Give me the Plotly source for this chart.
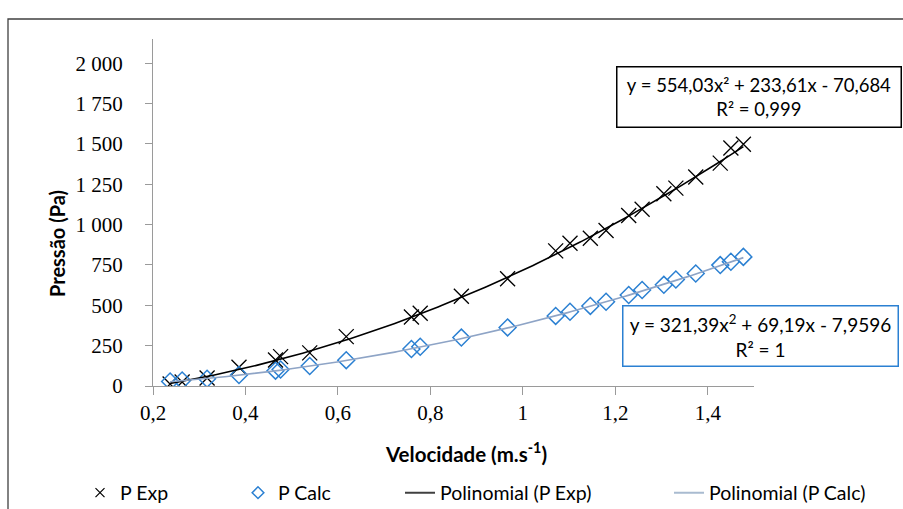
import numpy as np
import plotly.graph_objects as go

# ---------------- data ----------------
velocity = [0.237, 0.263, 0.317, 0.386, 0.465, 0.476, 0.539, 0.618, 0.759, 0.778,
            0.867, 0.967, 1.071, 1.102, 1.146, 1.180, 1.229, 1.258, 1.305, 1.331,
            1.374, 1.427, 1.450, 1.477]
p_exp = [12, 25, 50, 116, 161, 182, 205, 306, 428, 451,
         556, 664, 837, 885, 915, 963, 1056, 1095, 1191, 1226,
         1295, 1381, 1475, 1498]
p_calc = [28, 34, 45, 68, 95, 102, 124, 160, 229, 243,
          300, 363, 434, 460, 496, 522, 564, 595, 627, 660,
          697, 749, 770, 800]
exp_fit_coef = [554.03, 233.61, -70.684]
calc_fit_coef = [321.39, 69.19, -7.9596]

y_tickvals = [0, 250, 500, 750, 1000, 1250, 1500, 1750, 2000]
y_ticktext = ["0", "250", "500", "750", "1 000", "1 250", "1 500", "1 750", "2 000"]
x_tickvals = [0.2, 0.4, 0.6, 0.8, 1.0, 1.2, 1.4]
x_ticktext = ["0,2", "0,4", "0,6", "0,8", "1", "1,2", "1,4"]

# ---------------- layout helpers ----------------
W, H = 903, 509
L, R, T, B = 153, 149, 39, 123
PW, PH = W - L - R, H - T - B


def px(x):
    return (x - L) / PW


def py(y):
    return (H - B - y) / PH


SANS = "Lato, 'Noto Sans', sans-serif"
SERIF = "'Liberation Serif', 'DejaVu Serif', serif"
BLUE = "#2B80D2"
TREND2 = "#8EA4C6"

xs = np.linspace(min(velocity), max(velocity), 200)

fig = go.Figure()
# data traces (legend entries provided by small legend-only twins)
fig.add_trace(go.Scatter(
    x=velocity, y=p_exp, mode="markers", name="P Exp", showlegend=False,
    marker=dict(symbol="x-thin-open", size=15, color="black",
                line=dict(color="black", width=1.3))))
fig.add_trace(go.Scatter(
    x=velocity, y=p_calc, mode="markers", name="P Calc", showlegend=False,
    marker=dict(symbol="diamond-open", size=13, color=BLUE,
                line=dict(color=BLUE, width=1.5))))
fig.add_trace(go.Scatter(
    x=xs, y=np.polyval(exp_fit_coef, xs), mode="lines", name="Polinomial (P Exp)",
    line=dict(color="black", width=1.6), showlegend=False))
fig.add_trace(go.Scatter(
    x=xs, y=np.polyval(calc_fit_coef, xs), mode="lines", name="Polinomial (P Calc)",
    line=dict(color=TREND2, width=1.6), showlegend=False))

# legend entries
fig.add_trace(go.Scatter(
    x=[None], y=[None], mode="markers", name="P Exp", legend="legend",
    marker=dict(symbol="x-thin-open", size=9, color="black",
                line=dict(color="black", width=1.2))))
fig.add_trace(go.Scatter(
    x=[None], y=[None], mode="markers", name="P Calc", legend="legend2",
    marker=dict(symbol="diamond-open", size=9, color=BLUE,
                line=dict(color=BLUE, width=1.5))))
fig.add_trace(go.Scatter(
    x=[None], y=[None], mode="lines", name="Polinomial (P Exp)", legend="legend3",
    line=dict(color="#404040", width=2)))
fig.add_trace(go.Scatter(
    x=[None], y=[None], mode="lines", name="Polinomial (P Calc)", legend="legend4",
    line=dict(color="#A9BBD0", width=2)))

axis_common = dict(showgrid=False, zeroline=False, showline=True,
                   linecolor="#9A9A9A", linewidth=1.3, ticks="outside",
                   tickcolor="#9A9A9A", tickwidth=1.3, mirror=False)

leg_common = dict(orientation="h", yanchor="middle", xanchor="left",
                  font=dict(family=SANS, size=19.5, color="black"),
                  bgcolor="rgba(0,0,0,0)", itemsizing="trace",
                  itemclick=False, itemdoubleclick=False)
LEG_Y = py(493)

fig.update_layout(
    width=W, height=H,
    margin=dict(l=L, r=R, t=T, b=B, autoexpand=False),
    paper_bgcolor="white", plot_bgcolor="white", showlegend=True,
    xaxis=dict(range=[0.2, 1.5], tickvals=x_tickvals, ticktext=x_ticktext,
               ticklen=8, tickfont=dict(family=SERIF, size=21, color="black"),
               **axis_common),
    yaxis=dict(range=[0, 2150], tickvals=y_tickvals, ticktext=y_ticktext,
               ticklen=7, tickfont=dict(family=SERIF, size=21, color="black"),
               ticklabelstandoff=18,
               **axis_common),
    legend=dict(x=px(80), y=LEG_Y, **leg_common),
    legend2=dict(x=px(238), y=LEG_Y, **leg_common),
    legend3=dict(x=px(400), y=LEG_Y, **leg_common),
    legend4=dict(x=px(669), y=LEG_Y, **leg_common),
)

# axis titles
fig.add_annotation(xref="paper", yref="paper", x=px(466), y=py(452),
                   xanchor="center", yanchor="middle", showarrow=False,
                   text="<b>Velocidade (m.s<sup>-1</sup>)</b>",
                   font=dict(family=SANS, size=20.5, color="black"))
fig.add_annotation(xref="paper", yref="paper", x=px(57), y=py(244),
                   xanchor="center", yanchor="middle", showarrow=False,
                   textangle=-90, text="<b>Pressão (Pa)</b>",
                   font=dict(family=SANS, size=20, color="black"))

# outer chart border
fig.add_shape(type="rect", xref="paper", yref="paper",
              x0=px(8), x1=px(W + 5), y0=py(H + 5), y1=py(19),
              line=dict(color="#404040", width=1.3), fillcolor="rgba(0,0,0,0)",
              layer="below")

# trendline equation boxes
fig.add_annotation(xref="paper", yref="paper", x=px(758.5), y=py(97.5),
                   xanchor="center", yanchor="middle", showarrow=False,
                   text="y = 554,03x² + 233,61x - 70,684<br>R² = 0,999",
                   font=dict(family=SANS, size=18.5, color="black"),
                   align="center", width=277, height=53,
                   bordercolor="black", borderwidth=1.5, borderpad=3,
                   bgcolor="white")
fig.add_annotation(xref="paper", yref="paper", x=px(760), y=py(335.5),
                   xanchor="center", yanchor="middle", showarrow=False,
                   text="y = 321,39x<sup>2</sup> + 69,19x - 7,9596<br>R² = 1",
                   font=dict(family=SANS, size=19, color="black"),
                   align="center", width=268, height=53,
                   bordercolor=BLUE, borderwidth=1.5, borderpad=3,
                   bgcolor="white")

fig.write_html("out.html")
